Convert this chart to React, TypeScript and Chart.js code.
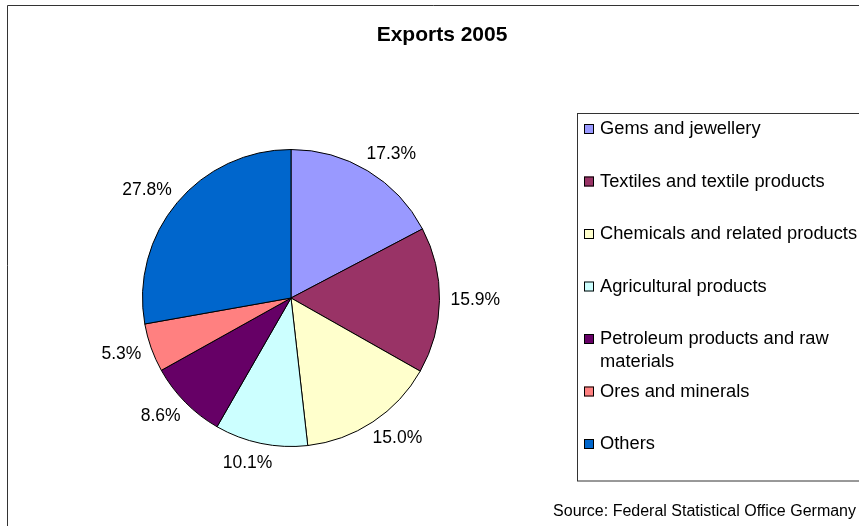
import React, { useEffect, useRef } from "react";
import { Chart, registerables } from "chart.js";

Chart.register(...registerables);

const categories = [
  "Gems and jewellery",
  "Textiles and textile products",
  "Chemicals and related products",
  "Agricultural products",
  "Petroleum products and raw materials",
  "Ores and minerals",
  "Others",
];
const shares = [17.3, 15.9, 15.0, 10.1, 8.6, 5.3, 27.8];
const sliceColors = ["#9999FF", "#993366", "#FFFFCC", "#CCFFFF", "#660066", "#FF8080", "#0066CC"];
const chartTitle = "Exports 2005";
const sourceNote = "Source: Federal Statistical Office Germany";

const FONT = "'Liberation Sans', Arial, sans-serif";

const decorPlugin = {
  id: "decor",
  afterDraw(chart: any) {
    const ctx: CanvasRenderingContext2D = chart.ctx;
    const W = chart.width;
    const H = chart.height;
    ctx.save();

    // outer frame
    ctx.strokeStyle = "#333333";
    ctx.lineWidth = 1;
    ctx.beginPath();
    ctx.moveTo(7.5, H);
    ctx.lineTo(7.5, 5.5);
    ctx.lineTo(W, 5.5);
    ctx.stroke();

    // title
    ctx.fillStyle = "#000000";
    ctx.font = `bold 21px ${FONT}`;
    ctx.textAlign = "center";
    ctx.textBaseline = "middle";
    ctx.fillText(chartTitle, 442, 35);

    // slice labels
    const meta = chart.getDatasetMeta(0);
    ctx.font = `17.5px ${FONT}`;
    meta.data.forEach((arc: any, i: number) => {
      const p = arc.getProps(["x", "y", "startAngle", "endAngle", "outerRadius"], true);
      const mid = (p.startAngle + p.endAngle) / 2;
      const dx = Math.cos(mid);
      const dy = Math.sin(mid);
      const text = shares[i].toFixed(1) + "%";
      const hw = ctx.measureText(text).width / 2;
      const hh = 9;
      const r = p.outerRadius + 11;
      const ox = Math.sign(dx) * Math.sqrt(Math.abs(dx)) * hw;
      ctx.fillText(text, p.x + dx * r + ox, p.y + dy * r + dy * hh);
    });

    // legend box
    ctx.strokeStyle = "#333333";
    ctx.strokeRect(577.5, 113.5, 400, 367.5);

    ctx.font = `18.3px ${FONT}`;
    ctx.textAlign = "left";
    const maxW = 258;
    categories.forEach((label, i) => {
      const yc = 129 + i * 52.5;
      ctx.fillStyle = sliceColors[i];
      ctx.fillRect(584, yc - 5, 10, 10);
      ctx.strokeStyle = "#000000";
      ctx.strokeRect(584.5, yc - 4.5, 9, 9);
      ctx.fillStyle = "#000000";
      const words = label.split(" ");
      const lines: string[] = [];
      let cur = "";
      words.forEach((w) => {
        const test = cur ? cur + " " + w : w;
        if (ctx.measureText(test).width > maxW && cur) {
          lines.push(cur);
          cur = w;
        } else {
          cur = test;
        }
      });
      if (cur) lines.push(cur);
      lines.forEach((ln, k) => ctx.fillText(ln, 600, yc + k * 22.5));
    });

    // source
    ctx.font = `16px ${FONT}`;
    ctx.textAlign = "right";
    ctx.fillText(sourceNote, 856, 512);

    ctx.restore();
  },
};

export default function App() {
  const canvasRef = useRef<HTMLCanvasElement | null>(null);

  useEffect(() => {
    if (!canvasRef.current) return;
    const chart = new Chart(canvasRef.current, {
      type: "pie",
      data: {
        labels: categories,
        datasets: [
          {
            data: shares,
            backgroundColor: sliceColors,
            borderColor: "#000000",
            borderWidth: 1,
          },
        ],
      },
      options: {
        responsive: false,
        animation: false,
        layout: { padding: { left: 142, top: 149, right: 419, bottom: 79 } },
        plugins: {
          legend: { display: false },
          tooltip: { enabled: false },
          title: { display: false },
        },
      },
      plugins: [decorPlugin],
    });
    return () => chart.destroy();
  }, []);

  return (
    <div style={{ position: "fixed", left: 0, top: 0, width: 859, height: 526, background: "#ffffff" }}>
      <canvas ref={canvasRef} width={859} height={526} style={{ display: "block" }} />
    </div>
  );
}
